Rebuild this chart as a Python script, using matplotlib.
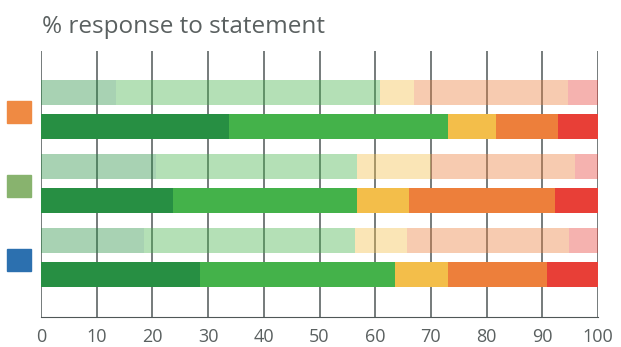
import matplotlib.pyplot as plt
from matplotlib.patches import Rectangle
from matplotlib.transforms import blended_transform_factory
import numpy as np

# segment widths, order: strongly agree .. strongly disagree
light = [[13.5, 47.4, 6.1, 27.6, 5.4],
         [20.6, 36.1, 13.4, 25.8, 4.1],
         [18.5, 37.9, 9.3, 29.1, 5.2]]
dark = [[33.8, 39.3, 8.6, 11.1, 7.2],
        [23.7, 33.0, 9.4, 26.2, 7.7],
        [28.5, 35.1, 9.5, 17.7, 9.2]]
seg_colors = ['#278F43', '#44B24A', '#F3BE4A', '#ED7F3B', '#E83F37']
group_colors = ['#EF8A43', '#88B36E', '#2C70AF']
xticks = [0, 10, 20, 30, 40, 50, 60, 70, 80, 90, 100]

plt.rcParams['font.family'] = ['Open Sans', 'DejaVu Sans']
fig = plt.figure(figsize=(6.21, 3.47), dpi=100)
ax = fig.add_axes([41/621, 30/347, 557/621, 266/347])

for i in range(len(light)):
    left = 0
    for w, c in zip(light[i], seg_colors):
        ax.barh(i - 0.23, w, left=left, height=0.34, color=c, alpha=0.4, lw=0, zorder=3)
        left += w
    left = 0
    for w, c in zip(dark[i], seg_colors):
        ax.barh(i + 0.23, w, left=left, height=0.34, color=c, lw=0, zorder=3)
        left += w

for x in xticks:
    ax.axvline(x, color='#4F5757', lw=1.1, zorder=2)

trans = blended_transform_factory(fig.transFigure, ax.transData)
for i, c in enumerate(group_colors):
    ax.add_patch(Rectangle((7/621, i + 0.03 - 0.15), 24/621, 0.30, color=c,
                           transform=trans, clip_on=False))

ax.set_xlim(0, 100)
ax.set_ylim(2.8, -0.79)
ax.set_xticks(xticks)
ax.set_yticks([])
for s in ['top', 'right', 'left']:
    ax.spines[s].set_visible(False)
ax.spines['bottom'].set_color('#4F5757')
ax.tick_params(axis='x', length=0, pad=8, labelsize=13, labelcolor='#5A6060')

fig.text(42/621, 1 - 33/347, '% response to statement', fontsize=17.5,
         color='#5A6060', ha='left', va='baseline')

fig.savefig('out.png', dpi=100)
